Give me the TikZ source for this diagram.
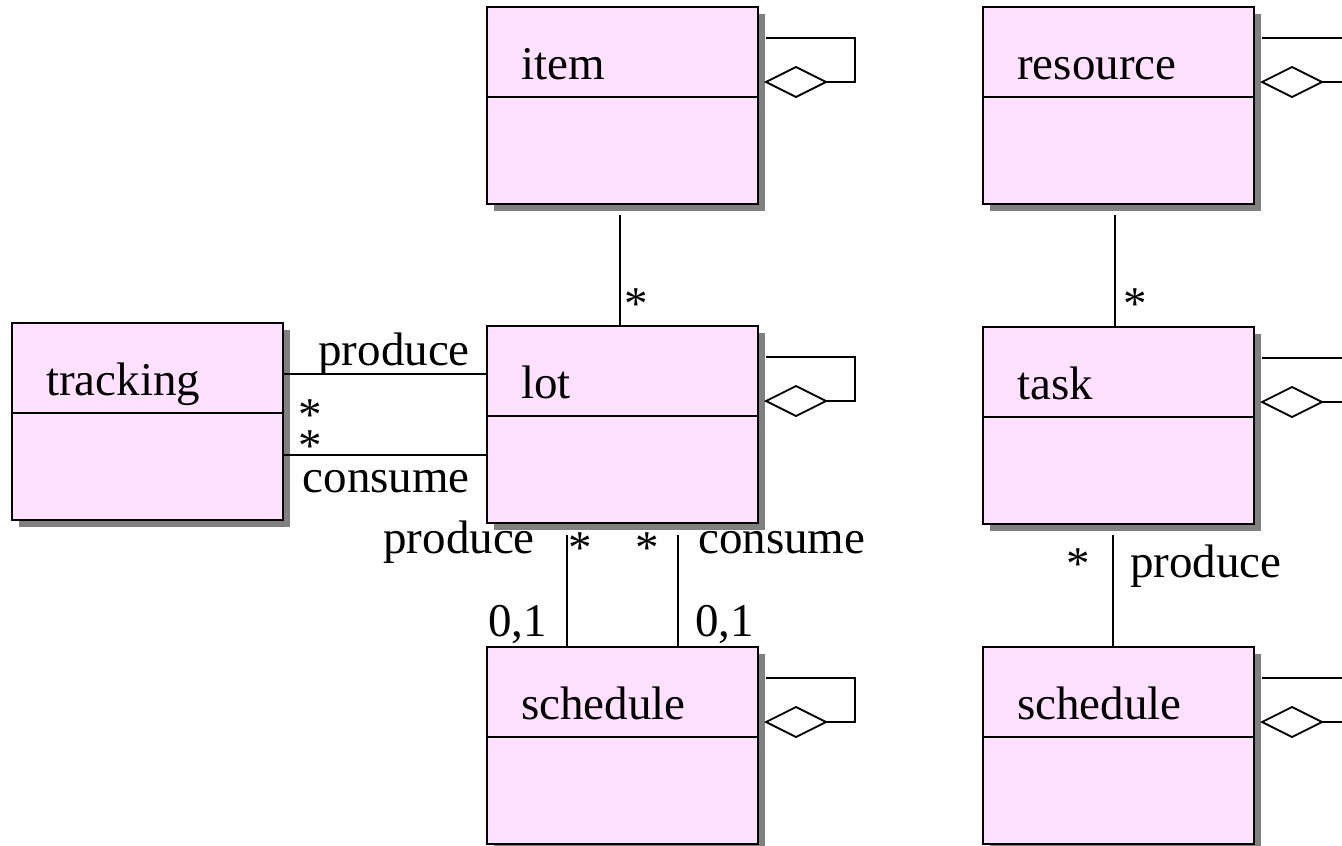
\documentclass[tikz,border=0pt]{standalone}
\usepackage{fontspec}
\setmainfont{Liberation Serif}
\usetikzlibrary{shadows}
\definecolor{classfill}{RGB}{255,224,255}
\definecolor{shadowgray}{RGB}{128,128,128}
\tikzset{
  x=1pt, y=-1pt,
  umlline/.style={line width=1.8pt, black},
  classbox/.style={draw, line width=2pt, fill=classfill, rectangle, inner sep=0pt,
    minimum width=271pt, minimum height=197pt, anchor=north west,
    general shadow={fill=shadowgray, shadow xshift=7pt, shadow yshift=-7pt}},
  lbl/.style={inner sep=0pt, font=\fontsize{47}{56}\selectfont},
  mult/.style={lbl, anchor=base, text height=0.62em, text depth=-0.3em},
}
% class box with a name compartment and an empty body
\newcommand\umlclass[4]{%
  \node[classbox] (#1) at (#2,#3) {};
  \draw[line width=2pt] ([yshift=-91pt]#1.north west) -- ([yshift=-91pt]#1.north east);
  \node[lbl, anchor=base west] (#1-name) at ([xshift=35pt,yshift=-73.5pt]#1.north west) {#4};
}
% self aggregation loop on the right side of a class
\newcommand\selfagg[1]{%
  \draw[umlline] ([xshift=7pt,yshift=-32pt]#1.north east) -| ([xshift=96pt,yshift=-76pt]#1.north east)
     -- ([xshift=67pt,yshift=-76pt]#1.north east);
  \draw[umlline, fill=white] ([xshift=7pt,yshift=-76pt]#1.north east) -- ++(30,-15) -- ++(30,15)
     -- ++(-30,15) -- cycle;
}
\begin{document}
\begin{tikzpicture}
\useasboundingbox (0,0) rectangle (1342,846);
\clip (0,0) rectangle (1342,846);
\fill[white] (0,0) rectangle (1342,846);

% classes
\umlclass{item}{486}{6}{item}
\umlclass{resource}{982}{6}{resource}
\umlclass{tracking}{11}{322}{tracking}
\umlclass{lot}{486}{325}{lot}
\umlclass{task}{982}{326}{task}
\umlclass{schedA}{486}{646}{schedule}
\umlclass{schedB}{982}{646}{schedule}
\selfagg{item}
\selfagg{resource}
\selfagg{lot}
\selfagg{task}
\selfagg{schedA}
\selfagg{schedB}

% item -- lot
\draw[umlline] ([xshift=-2.5pt,yshift=-10pt]item.south) -- ([xshift=-2.5pt]lot.north);
\node[mult] (s1) at (636,319) {*};

% resource -- task
\draw[umlline] ([xshift=-3.5pt,yshift=-10pt]resource.south) -- ([xshift=-3.5pt]task.north);
\node[mult] (s2) at (1135,319) {*};

% tracking -- lot (produce / consume)
\draw[umlline] ([yshift=47.5pt]tracking.east) -- ([yshift=47.5pt]tracking.east -| lot.west);
\draw[umlline] ([yshift=-33.5pt]tracking.east) -- ([yshift=-33.5pt]tracking.east -| lot.west);
\node[lbl, anchor=base east] (tp) at (470,365) {produce};
\node[mult] (ts1) at (310,430) {*};
\node[mult] (ts2) at (310,461) {*};
\node[lbl, anchor=base east] (tc) at (470,492) {consume};

% lot -- schedule (produce / consume)
\draw[umlline] ([xshift=-55.5pt,yshift=-11pt]lot.south) -- ([xshift=-55.5pt]schedA.north);
\draw[umlline] ([xshift=55.5pt,yshift=-11pt]lot.south) -- ([xshift=55.5pt]schedA.north);
\node[lbl, anchor=base east] (lp) at (535,553) {produce};
\node[mult] (ls1) at (580,563) {*};
\node[mult] (ls2) at (647,563) {*};
\node[lbl, anchor=base west] (lc) at (698,553) {consume};
\node[lbl, anchor=base east] (l01a) at (547,636) {0,1};
\node[lbl, anchor=base west] (l01b) at (695,636) {0,1};

% task -- schedule
\draw[umlline] ([xshift=-5.5pt,yshift=-10pt]task.south) -- ([xshift=-5.5pt]schedB.north);
\node[mult] (ks) at (1078,579) {*};
\node[lbl, anchor=base west] (kp) at (1130,577) {produce};
\end{tikzpicture}
\end{document}
